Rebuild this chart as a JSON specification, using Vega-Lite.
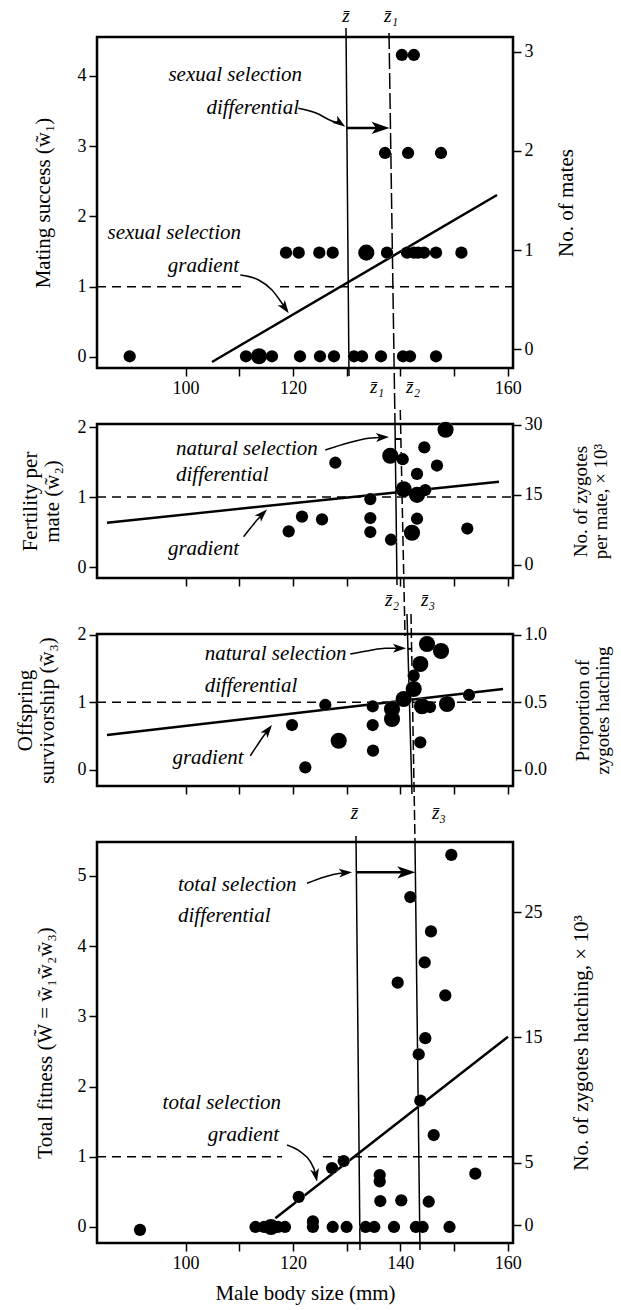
{
 "$schema": "https://vega.github.io/schema/vega-lite/v6.json",
 "padding": {"left": 12, "top": 5, "right": 0, "bottom": 0},
 "background": "white",
 "bounds": "flush",
 "spacing": 56,
 "config": {
  "font": "Liberation Serif",
  "view": {"stroke": "black", "strokeWidth": 2.5},
  "axis": {"domain": false, "grid": false, "tickColor": "black", "tickWidth": 1.5, "tickSize": 8, "labelFont": "Liberation Serif", "labelFontSize": 18, "labelColor": "black", "labelPadding": 3, "labelFlush": false, "labelOverlap": false, "titleFont": "Liberation Serif", "titleFontSize": 21, "titleFontWeight": "normal", "titleColor": "black", "titleLineHeight": 22},
  "text": {"font": "Liberation Serif", "color": "black"},
  "line": {"color": "black"},
  "rule": {"color": "black"}
 },
 "datasets": {
  "p1": [
   {"x": 89.59, "w": 0.01, "n": 1}, {"x": 111.26, "w": 0.01, "n": 1}, {"x": 113.68, "w": 0.01, "n": 2}, {"x": 116.10, "w": 0.01, "n": 1},
   {"x": 121.32, "w": 0.01, "n": 1}, {"x": 125.04, "w": 0.01, "n": 1}, {"x": 127.65, "w": 0.01, "n": 1}, {"x": 131.38, "w": 0.01, "n": 1},
   {"x": 132.87, "w": 0.01, "n": 1}, {"x": 136.41, "w": 0.01, "n": 1}, {"x": 140.51, "w": 0.01, "n": 1}, {"x": 141.81, "w": 0.01, "n": 1},
   {"x": 146.66, "w": 0.01, "n": 1},
   {"x": 118.71, "w": 1.485, "n": 1}, {"x": 121.08, "w": 1.485, "n": 1}, {"x": 124.91, "w": 1.485, "n": 1}, {"x": 127.41, "w": 1.485, "n": 1},
   {"x": 133.67, "w": 1.485, "n": 2}, {"x": 137.53, "w": 1.485, "n": 1}, {"x": 141.26, "w": 1.485, "n": 1}, {"x": 142.56, "w": 1.485, "n": 1},
   {"x": 143.31, "w": 1.485, "n": 1}, {"x": 144.42, "w": 1.485, "n": 1}, {"x": 146.66, "w": 1.485, "n": 1}, {"x": 151.39, "w": 1.485, "n": 1},
   {"x": 137.16, "w": 2.904, "n": 1}, {"x": 141.45, "w": 2.904, "n": 1}, {"x": 147.59, "w": 2.904, "n": 1},
   {"x": 140.3, "w": 4.299, "n": 1}, {"x": 142.53, "w": 4.299, "n": 1}
  ],
  "p2": [
   {"x": 127.9, "w": 1.49, "n": 1}, {"x": 138.14, "w": 1.59, "n": 2}, {"x": 140.45, "w": 1.54, "n": 1}, {"x": 144.48, "w": 1.71, "n": 1},
   {"x": 148.44, "w": 1.96, "n": 2}, {"x": 146.84, "w": 1.45, "n": 1}, {"x": 143.12, "w": 1.33, "n": 1}, {"x": 140.64, "w": 1.11, "n": 2},
   {"x": 143.12, "w": 1.03, "n": 2}, {"x": 144.66, "w": 1.10, "n": 1}, {"x": 134.42, "w": 0.97, "n": 1}, {"x": 134.42, "w": 0.70, "n": 1},
   {"x": 134.42, "w": 0.50, "n": 1}, {"x": 121.69, "w": 0.72, "n": 1}, {"x": 125.42, "w": 0.68, "n": 1}, {"x": 119.21, "w": 0.51, "n": 1},
   {"x": 138.27, "w": 0.39, "n": 1}, {"x": 143.12, "w": 0.69, "n": 1}, {"x": 142.18, "w": 0.49, "n": 2}, {"x": 152.49, "w": 0.55, "n": 1}
  ],
  "p3": [
   {"x": 144.98, "w": 1.862, "n": 2}, {"x": 147.59, "w": 1.759, "n": 2}, {"x": 143.73, "w": 1.567, "n": 2}, {"x": 142.5, "w": 1.393, "n": 1},
   {"x": 142.5, "w": 1.197, "n": 2}, {"x": 140.64, "w": 1.049, "n": 2}, {"x": 144.05, "w": 0.941, "n": 2}, {"x": 145.54, "w": 0.930, "n": 1},
   {"x": 148.71, "w": 0.975, "n": 2}, {"x": 152.8, "w": 1.108, "n": 1}, {"x": 126.03, "w": 0.960, "n": 1}, {"x": 134.86, "w": 0.941, "n": 1},
   {"x": 138.46, "w": 0.901, "n": 2}, {"x": 138.46, "w": 0.753, "n": 2}, {"x": 134.86, "w": 0.664, "n": 1}, {"x": 119.83, "w": 0.664, "n": 1},
   {"x": 128.53, "w": 0.432, "n": 2}, {"x": 134.92, "w": 0.284, "n": 1}, {"x": 143.73, "w": 0.408, "n": 1}, {"x": 122.31, "w": 0.038, "n": 1}
  ],
  "p4": [
   {"x": 149.51, "w": 5.30, "n": 1}, {"x": 141.87, "w": 4.70, "n": 1}, {"x": 145.72, "w": 4.21, "n": 1}, {"x": 144.55, "w": 3.77, "n": 1},
   {"x": 139.52, "w": 3.48, "n": 1}, {"x": 148.39, "w": 3.30, "n": 1}, {"x": 144.66, "w": 2.69, "n": 1}, {"x": 143.43, "w": 2.46, "n": 1},
   {"x": 143.73, "w": 1.80, "n": 1}, {"x": 146.23, "w": 1.31, "n": 1}, {"x": 129.46, "w": 0.94, "n": 1}, {"x": 127.28, "w": 0.84, "n": 1},
   {"x": 121.08, "w": 0.43, "n": 1}, {"x": 136.17, "w": 0.74, "n": 1}, {"x": 136.17, "w": 0.65, "n": 1}, {"x": 136.28, "w": 0.37, "n": 1},
   {"x": 140.19, "w": 0.38, "n": 1}, {"x": 145.3, "w": 0.36, "n": 1}, {"x": 153.98, "w": 0.76, "n": 1},
   {"x": 91.51, "w": -0.04, "n": 1}, {"x": 113.03, "w": 0.0, "n": 1}, {"x": 114.61, "w": 0.0, "n": 1}, {"x": 115.92, "w": 0.0, "n": 2},
   {"x": 117.22, "w": 0.0, "n": 1}, {"x": 118.52, "w": 0.0, "n": 1}, {"x": 123.72, "w": 0.08, "n": 1}, {"x": 123.72, "w": 0.0, "n": 1},
   {"x": 127.41, "w": 0.0, "n": 1}, {"x": 130.0, "w": 0.0, "n": 1}, {"x": 133.54, "w": 0.0, "n": 1}, {"x": 135.16, "w": 0.0, "n": 1},
   {"x": 138.83, "w": 0.0, "n": 1}, {"x": 142.91, "w": 0.0, "n": 1}, {"x": 144.16, "w": 0.0, "n": 1}, {"x": 149.17, "w": 0.0, "n": 1}
  ]
 },
 "vconcat": [
  {
   "width": 416, "height": 331,
   "layer": [
    {
     "encoding": {
      "x": {"field": "x", "type": "quantitative", "scale": {"domain": [83.5, 161], "nice": false, "zero": false}, "axis": {"values": [100, 110, 120, 130, 140, 150, 160], "labelExpr": "indexof([100,120,160], datum.value) >= 0 ? datum.label : ''", "title": null}},
      "y": {"field": "w", "type": "quantitative", "scale": {"domain": [-0.157, 4.555], "nice": false, "zero": false}, "axis": {"values": [0, 1, 2, 3, 4], "title": "Mating success (w\u0303\u2081)", "titlePadding": 24}}
     },
     "layer": [
      {"data": {"values": [{"x": 83.5, "x2": 110.5, "w": 1}, {"x": 117.6, "x2": 161, "w": 1}]}, "mark": {"type": "rule", "strokeDash": [9, 6], "strokeWidth": 1.5}, "encoding": {"x2": {"field": "x2"}}},
      {"data": {"values": [{"x": 129.89, "x2": 130.45, "w": 4.683, "w2": -0.27}]}, "mark": {"type": "rule", "strokeWidth": 1.5}, "encoding": {"x2": {"field": "x2"}, "y2": {"field": "w2"}}},
      {"data": {"values": [{"x": 137.9, "x2": 139.02, "w": 4.612, "w2": -0.954}]}, "mark": {"type": "rule", "strokeWidth": 1.5, "strokeDash": [16, 4]}, "encoding": {"x2": {"field": "x2"}, "y2": {"field": "w2"}}},
      {"data": {"values": [{"x": 104.92, "w": -0.071}, {"x": 158.02, "w": 2.306}]}, "mark": {"type": "line", "strokeWidth": 2.5}},
      {"data": {"values": [{"x": 129.94, "x2": 137.0, "w": 3.26}]}, "mark": {"type": "rule", "strokeWidth": 2.5}, "encoding": {"x2": {"field": "x2"}}},
      {"data": {"values": [{"x": 138.0, "w": 3.26}]}, "mark": {"type": "point", "shape": "M0,0L0.34,1L0,0.75L-0.34,1Z", "filled": true, "color": "black", "opacity": 1, "strokeWidth": 0, "size": 1296, "angle": 90}},
      {"data": {"values": [{"x": 121.01, "w": 3.54}, {"x": 124.42, "w": 3.469}, {"x": 126.84, "w": 3.374}, {"x": 129.2, "w": 3.31}]}, "mark": {"type": "line", "strokeWidth": 1.5, "interpolate": "monotone"}},
      {"data": {"values": [{"x": 129.76, "w": 3.278}]}, "mark": {"type": "point", "shape": "M0,0L0.34,1L0,0.75L-0.34,1Z", "filled": true, "color": "black", "opacity": 1, "strokeWidth": 0, "size": 676, "angle": 125}},
      {"data": {"values": [{"x": 110.2, "w": 1.167}, {"x": 113.62, "w": 1.096}, {"x": 116.1, "w": 0.954}, {"x": 117.97, "w": 0.764}, {"x": 118.9, "w": 0.66}]}, "mark": {"type": "line", "strokeWidth": 1.5, "interpolate": "monotone"}},
      {"data": {"values": [{"x": 119.21, "w": 0.622}]}, "mark": {"type": "point", "shape": "M0,0L0.34,1L0,0.75L-0.34,1Z", "filled": true, "color": "black", "opacity": 1, "strokeWidth": 0, "size": 676, "angle": 145}},
      {"data": {"name": "p1"}, "mark": {"type": "circle", "color": "white", "opacity": 1}, "encoding": {"size": {"field": "n", "type": "quantitative", "scale": {"domain": [1, 2], "range": [150, 260]}, "legend": null}}},
      {"data": {"name": "p1"}, "mark": {"type": "circle", "color": "black", "opacity": 1}, "encoding": {"size": {"field": "n", "type": "quantitative", "scale": {"domain": [1, 2], "range": [80, 175]}, "legend": null}}},
      {"data": {"values": [{"x": 121.69, "w": 4.014, "label": "sexual selection"}, {"x": 121.13, "w": 3.544, "label": "differential"}, {"x": 110.33, "w": 1.765, "label": "sexual selection"}, {"x": 109.95, "w": 1.295, "label": "gradient"}]}, "mark": {"type": "text", "fontStyle": "italic", "fontSize": 21, "align": "right", "baseline": "middle"}, "encoding": {"text": {"field": "label"}}},
      {"data": {"values": [{"x": 129.9, "w": 4.854, "label": "z\u0304"}, {"x": 138.27, "w": 4.854, "label": "z\u0304\u2081"}, {"x": 135.66, "w": -0.427, "label": "z\u0304\u2081"}, {"x": 142.37, "w": -0.427, "label": "z\u0304\u2082"}]}, "mark": {"type": "text", "fontStyle": "italic", "fontSize": 19, "align": "center", "baseline": "middle"}, "encoding": {"text": {"field": "label"}}}
     ]
    },
    {"data": {"values": [{"r": 0}]}, "mark": {"type": "point", "opacity": 0}, "encoding": {"y": {"field": "r", "type": "quantitative", "scale": {"domain": [-0.188, 3.148], "nice": false, "zero": false}, "axis": {"orient": "right", "values": [0, 1, 2, 3], "title": "No. of mates", "titleAngle": 270, "titleBaseline": "top", "titlePadding": 22}}}}
   ],
   "resolve": {"scale": {"y": "independent"}}
  },
  {
   "width": 416, "height": 154,
   "layer": [
    {
     "encoding": {
      "x": {"field": "x", "type": "quantitative", "scale": {"domain": [83.5, 161], "nice": false, "zero": false}, "axis": {"values": [100, 110, 120, 130, 140, 150, 160], "labels": false, "title": null}},
      "y": {"field": "w", "type": "quantitative", "scale": {"domain": [-0.157, 2.043], "nice": false, "zero": false}, "axis": {"values": [0, 1, 2], "title": ["Fertility per", "mate (w\u0303\u2082)"], "titlePadding": 15}}
     },
     "layer": [
      {"data": {"values": [{"x": 83.5, "x2": 161, "w": 1}]}, "mark": {"type": "rule", "strokeDash": [9, 6], "strokeWidth": 1.5}, "encoding": {"x2": {"field": "x2"}}},
      {"data": {"values": [{"x": 139.02, "x2": 139.39, "w": 2.043, "w2": -0.257}]}, "mark": {"type": "rule", "strokeWidth": 1.5}, "encoding": {"x2": {"field": "x2"}, "y2": {"field": "w2"}}},
      {"data": {"values": [{"x": 140.0, "x2": 140.88, "w": 2.243, "w2": -0.986}]}, "mark": {"type": "rule", "strokeWidth": 1.5, "strokeDash": [10, 4]}, "encoding": {"x2": {"field": "x2"}, "y2": {"field": "w2"}}},
      {"data": {"values": [{"x": 85.36, "w": 0.633}, {"x": 158.39, "w": 1.219}]}, "mark": {"type": "line", "strokeWidth": 2.5}},
      {"data": {"values": [{"x": 126.03, "w": 1.671}, {"x": 130.39, "w": 1.776}, {"x": 134.12, "w": 1.839}, {"x": 137.0, "w": 1.853}]}, "mark": {"type": "line", "strokeWidth": 1.5, "interpolate": "monotone"}},
      {"data": {"values": [{"x": 137.9, "w": 1.857}]}, "mark": {"type": "point", "shape": "M0,0L0.34,1L0,0.75L-0.34,1Z", "filled": true, "color": "black", "opacity": 1, "strokeWidth": 0, "size": 676, "angle": 88}},
      {"data": {"values": [{"x": 139.07, "x2": 140.13, "w": 1.829}]}, "mark": {"type": "rule", "strokeWidth": 2}, "encoding": {"x2": {"field": "x2"}}},
      {"data": {"values": [{"x": 110.83, "w": 0.433}, {"x": 112.06, "w": 0.553}, {"x": 113.31, "w": 0.671}, {"x": 114.6, "w": 0.77}]}, "mark": {"type": "line", "strokeWidth": 1.5, "interpolate": "monotone"}},
      {"data": {"values": [{"x": 115.17, "w": 0.821}]}, "mark": {"type": "point", "shape": "M0,0L0.34,1L0,0.75L-0.34,1Z", "filled": true, "color": "black", "opacity": 1, "strokeWidth": 0, "size": 676, "angle": 45}},
      {"data": {"name": "p2"}, "mark": {"type": "circle", "color": "white", "opacity": 1}, "encoding": {"size": {"field": "n", "type": "quantitative", "scale": {"domain": [1, 2], "range": [150, 260]}, "legend": null}}},
      {"data": {"name": "p2"}, "mark": {"type": "circle", "color": "black", "opacity": 1}, "encoding": {"size": {"field": "n", "type": "quantitative", "scale": {"domain": [1, 2], "range": [80, 175]}, "legend": null}}},
      {"data": {"values": [{"x": 98.22, "w": 1.686, "label": "natural selection"}, {"x": 98.22, "w": 1.314, "label": "differential"}]}, "mark": {"type": "text", "fontStyle": "italic", "fontSize": 21, "align": "left", "baseline": "middle"}, "encoding": {"text": {"field": "label"}}},
      {"data": {"values": [{"x": 103.34, "w": 0.257, "label": "gradient"}]}, "mark": {"type": "text", "fontStyle": "italic", "fontSize": 21, "align": "center", "baseline": "middle"}, "encoding": {"text": {"field": "label"}}},
      {"data": {"values": [{"x": 138.46, "w": -0.471, "label": "z\u0304\u2082"}, {"x": 145.17, "w": -0.471, "label": "z\u0304\u2083"}]}, "mark": {"type": "text", "fontStyle": "italic", "fontSize": 19, "align": "center", "baseline": "middle"}, "encoding": {"text": {"field": "label"}}}
     ]
    },
    {"data": {"values": [{"r": 0}]}, "mark": {"type": "point", "opacity": 0}, "encoding": {"y": {"field": "r", "type": "quantitative", "scale": {"domain": [-2.79, 30.21], "nice": false, "zero": false}, "axis": {"orient": "right", "values": [0, 15, 30], "title": ["No. of zygotes", "per mate, \u00d7 10\u00b3"], "titleAngle": 270, "titleBaseline": "top", "titlePadding": 9, "titleFontSize": 19, "titleLineHeight": 20}}}}
   ],
   "resolve": {"scale": {"y": "independent"}}
  },
  {
   "width": 416, "height": 152,
   "layer": [
    {
     "encoding": {
      "x": {"field": "x", "type": "quantitative", "scale": {"domain": [83.5, 161], "nice": false, "zero": false}, "axis": {"values": [100, 110, 120, 130, 140, 150, 160], "labels": false, "title": null}},
      "y": {"field": "w", "type": "quantitative", "scale": {"domain": [-0.238, 2.01], "nice": false, "zero": false}, "axis": {"values": [0, 1, 2], "title": ["Offspring", "survivorship (w\u0303\u2083)"], "titlePadding": 20}}
     },
     "layer": [
      {"data": {"values": [{"x": 83.5, "x2": 161, "w": 1}]}, "mark": {"type": "rule", "strokeDash": [9, 6], "strokeWidth": 1.5}, "encoding": {"x2": {"field": "x2"}}},
      {"data": {"values": [{"x": 141.25, "x2": 142.18, "w": 2.306, "w2": -0.357}]}, "mark": {"type": "rule", "strokeWidth": 1.5}, "encoding": {"x2": {"field": "x2"}, "y2": {"field": "w2"}}},
      {"data": {"values": [{"x": 142.0, "x2": 142.74, "w": 2.306, "w2": -1.052}]}, "mark": {"type": "rule", "strokeWidth": 1.5, "strokeDash": [10, 4]}, "encoding": {"x2": {"field": "x2"}, "y2": {"field": "w2"}}},
      {"data": {"values": [{"x": 85.36, "w": 0.516}, {"x": 159.14, "w": 1.197}]}, "mark": {"type": "line", "strokeWidth": 2.5}},
      {"data": {"values": [{"x": 130.69, "w": 1.714}, {"x": 134.12, "w": 1.763}, {"x": 137.21, "w": 1.799}, {"x": 140.2, "w": 1.799}]}, "mark": {"type": "line", "strokeWidth": 1.5, "interpolate": "monotone"}},
      {"data": {"values": [{"x": 141.07, "w": 1.799}]}, "mark": {"type": "point", "shape": "M0,0L0.34,1L0,0.75L-0.34,1Z", "filled": true, "color": "black", "opacity": 1, "strokeWidth": 0, "size": 676, "angle": 90}},
      {"data": {"values": [{"x": 141.44, "x2": 142.18, "w": 1.79}]}, "mark": {"type": "rule", "strokeWidth": 2}, "encoding": {"x2": {"field": "x2"}}},
      {"data": {"values": [{"x": 112.06, "w": 0.21}, {"x": 113.31, "w": 0.358}, {"x": 114.56, "w": 0.506}, {"x": 115.6, "w": 0.6}]}, "mark": {"type": "line", "strokeWidth": 1.5, "interpolate": "monotone"}},
      {"data": {"values": [{"x": 116.1, "w": 0.664}]}, "mark": {"type": "point", "shape": "M0,0L0.34,1L0,0.75L-0.34,1Z", "filled": true, "color": "black", "opacity": 1, "strokeWidth": 0, "size": 676, "angle": 38}},
      {"data": {"name": "p3"}, "mark": {"type": "circle", "color": "white", "opacity": 1}, "encoding": {"size": {"field": "n", "type": "quantitative", "scale": {"domain": [1, 2], "range": [150, 260]}, "legend": null}}},
      {"data": {"name": "p3"}, "mark": {"type": "circle", "color": "black", "opacity": 1}, "encoding": {"size": {"field": "n", "type": "quantitative", "scale": {"domain": [1, 2], "range": [80, 175]}, "legend": null}}},
      {"data": {"values": [{"x": 103.56, "w": 1.714, "label": "natural selection"}, {"x": 103.56, "w": 1.241, "label": "differential"}]}, "mark": {"type": "text", "fontStyle": "italic", "fontSize": 21, "align": "left", "baseline": "middle"}, "encoding": {"text": {"field": "label"}}},
      {"data": {"values": [{"x": 104.18, "w": 0.176, "label": "gradient"}]}, "mark": {"type": "text", "fontStyle": "italic", "fontSize": 21, "align": "center", "baseline": "middle"}, "encoding": {"text": {"field": "label"}}},
      {"data": {"values": [{"x": 131.47, "w": -0.635, "label": "z\u0304"}, {"x": 147.21, "w": -0.635, "label": "z\u0304\u2083"}]}, "mark": {"type": "text", "fontStyle": "italic", "fontSize": 19, "align": "center", "baseline": "middle"}, "encoding": {"text": {"field": "label"}}}
     ]
    },
    {"data": {"values": [{"r": 0}]}, "mark": {"type": "point", "opacity": 0}, "encoding": {"y": {"field": "r", "type": "quantitative", "scale": {"domain": [-0.119, 1.005], "nice": false, "zero": false}, "axis": {"orient": "right", "values": [0, 0.5, 1], "format": ".1f", "title": ["Proportion of", "zygotes hatching"], "titleAngle": 270, "titleBaseline": "top", "titlePadding": 7, "titleFontSize": 19, "titleLineHeight": 20}}}}
   ],
   "resolve": {"scale": {"y": "independent"}}
  },
  {
   "width": 416, "height": 401,
   "layer": [
    {
     "encoding": {
      "x": {"field": "x", "type": "quantitative", "scale": {"domain": [83.5, 161], "nice": false, "zero": false}, "axis": {"values": [100, 110, 120, 130, 140, 150, 160], "labelExpr": "indexof([100,120,140,160], datum.value) >= 0 ? datum.label : ''", "title": "Male body size (mm)", "titlePadding": 10}},
      "y": {"field": "w", "type": "quantitative", "scale": {"domain": [-0.228, 5.484], "nice": false, "zero": false}, "axis": {"values": [0, 1, 2, 3, 4, 5], "title": "Total fitness (W\u0303 = w\u0303\u2081w\u0303\u2082w\u0303\u2083)", "titlePadding": 22}}
     },
     "layer": [
      {"data": {"values": [{"x": 83.5, "x2": 117.97, "w": 1}, {"x": 125.6, "x2": 161, "w": 1}]}, "mark": {"type": "rule", "strokeDash": [9, 6], "strokeWidth": 1.5}, "encoding": {"x2": {"field": "x2"}}},
      {"data": {"values": [{"x": 131.75, "x2": 132.5, "w": 5.57, "w2": -0.328}]}, "mark": {"type": "rule", "strokeWidth": 1.5}, "encoding": {"x2": {"field": "x2"}, "y2": {"field": "w2"}}},
      {"data": {"values": [{"x": 142.74, "x2": 143.67, "w": 5.484, "w2": -0.328}]}, "mark": {"type": "rule", "strokeWidth": 1.5}, "encoding": {"x2": {"field": "x2"}, "y2": {"field": "w2"}}},
      {"data": {"values": [{"x": 116.72, "w": 0.124}, {"x": 160.07, "w": 2.711}]}, "mark": {"type": "line", "strokeWidth": 2.5}},
      {"data": {"values": [{"x": 122.62, "w": 4.896}, {"x": 126.03, "w": 4.99}, {"x": 128.83, "w": 5.038}, {"x": 130.3, "w": 5.05}]}, "mark": {"type": "line", "strokeWidth": 1.5, "interpolate": "monotone"}},
      {"data": {"values": [{"x": 131.01, "w": 5.053}]}, "mark": {"type": "point", "shape": "M0,0L0.34,1L0,0.75L-0.34,1Z", "filled": true, "color": "black", "opacity": 1, "strokeWidth": 0, "size": 676, "angle": 86}},
      {"data": {"values": [{"x": 131.81, "x2": 141.8, "w": 5.053}]}, "mark": {"type": "rule", "strokeWidth": 2.5}, "encoding": {"x2": {"field": "x2"}}},
      {"data": {"values": [{"x": 142.8, "w": 5.053}]}, "mark": {"type": "point", "shape": "M0,0L0.34,1L0,0.75L-0.34,1Z", "filled": true, "color": "black", "opacity": 1, "strokeWidth": 0, "size": 1296, "angle": 90}},
      {"data": {"values": [{"x": 118.9, "w": 1.168}, {"x": 121.37, "w": 1.073}, {"x": 123.24, "w": 0.93}, {"x": 124.17, "w": 0.765}, {"x": 124.35, "w": 0.7}]}, "mark": {"type": "line", "strokeWidth": 1.5, "interpolate": "monotone"}},
      {"data": {"values": [{"x": 124.49, "w": 0.645}]}, "mark": {"type": "point", "shape": "M0,0L0.34,1L0,0.75L-0.34,1Z", "filled": true, "color": "black", "opacity": 1, "strokeWidth": 0, "size": 676, "angle": 169}},
      {"data": {"name": "p4"}, "mark": {"type": "circle", "color": "white", "opacity": 1}, "encoding": {"size": {"field": "n", "type": "quantitative", "scale": {"domain": [1, 2], "range": [150, 260]}, "legend": null}}},
      {"data": {"name": "p4"}, "mark": {"type": "circle", "color": "black", "opacity": 1}, "encoding": {"size": {"field": "n", "type": "quantitative", "scale": {"domain": [1, 2], "range": [80, 175]}, "legend": null}}},
      {"data": {"values": [{"x": 98.59, "w": 4.872, "label": "total selection"}, {"x": 98.59, "w": 4.43, "label": "differential"}]}, "mark": {"type": "text", "fontStyle": "italic", "fontSize": 21, "align": "left", "baseline": "middle"}, "encoding": {"text": {"field": "label"}}},
      {"data": {"values": [{"x": 117.78, "w": 1.766, "label": "total selection"}, {"x": 117.41, "w": 1.311, "label": "gradient"}]}, "mark": {"type": "text", "fontStyle": "italic", "fontSize": 21, "align": "right", "baseline": "middle"}, "encoding": {"text": {"field": "label"}}}
     ]
    },
    {"data": {"values": [{"r": 0}]}, "mark": {"type": "point", "opacity": 0}, "encoding": {"y": {"field": "r", "type": "quantitative", "scale": {"domain": [-1.44, 30.64], "nice": false, "zero": false}, "axis": {"orient": "right", "values": [0, 5, 15, 25], "title": "No. of zygotes hatching, \u00d7 10\u00b3", "titleAngle": 270, "titleBaseline": "top", "titlePadding": 28}}}}
   ],
   "resolve": {"scale": {"y": "independent"}}
  }
 ]
}
